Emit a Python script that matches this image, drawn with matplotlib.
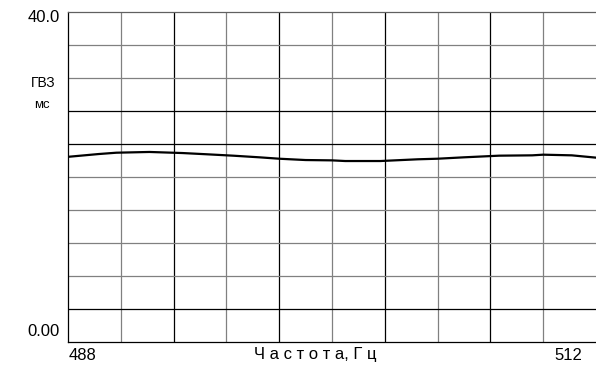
import numpy as np
import matplotlib

matplotlib.use("Agg")
import matplotlib.pyplot as plt  # noqa: E402

plt.rcParams["font.family"] = ["Liberation Sans", "DejaVu Sans"]

# group delay (ГВЗ), ms
freq_hz = [488.0, 489.4, 490.2, 491.7, 493.2, 494.3, 495.5, 496.7, 497.6,
           498.8, 500.0, 500.6, 502.2, 503.9, 504.8, 506.0, 507.6, 509.1,
           509.6, 510.9, 512.0]
gvz_ms = [22.45, 22.79, 22.95, 23.04, 22.91, 22.76, 22.59, 22.39, 22.22,
          22.06, 22.02, 21.94, 21.94, 22.15, 22.22, 22.39, 22.59, 22.63,
          22.71, 22.63, 22.35]

x_min, x_max = 488, 512
y_min, y_max = 0.0, 40.0
y_top_label = "40.0"
y_bottom_label = "0.00"
x_left_label = "488"
x_right_label = "512"
x_title = "Ч а с т о т а, Г ц"
y_title = "ГВЗ"
y_units = "мс"

fig = plt.figure(figsize=(5.96, 3.65), dpi=100)
ax = fig.add_axes([68 / 596, 23.3 / 365, 528 / 596, 329.4 / 365])
ax.set_xlim(x_min, x_max)
ax.set_ylim(y_min, y_max)
ax.set_xticks([])
ax.set_yticks([])

# grid: 10 x 10 cells, vertical lines alternate grey / black
for i, xv in enumerate(np.linspace(x_min, x_max, 11)[1:-1], start=1):
    ax.axvline(xv, color="#808080" if i % 2 else "#000000", lw=0.9, zorder=1)
dark_rows = {1, 6, 7}
for i, yv in enumerate(np.linspace(y_min, y_max, 11)[1:-1], start=1):
    ax.axhline(yv, color="#000000" if i in dark_rows else "#808080",
               lw=0.9, zorder=1)

ax.spines["right"].set_visible(False)
ax.spines["top"].set_color("#606060")
for s in ("left", "bottom"):
    ax.spines[s].set_color("#000000")
for s in ("left", "bottom", "top"):
    ax.spines[s].set_linewidth(0.9)

ax.plot(freq_hz, gvz_ms, color="#000000", lw=1.6, zorder=3)

# labels placed like the original instrument screen
fig.text(60 / 596, 1 - 18 / 365, y_top_label, ha="right", va="center",
         fontsize=12)
fig.text(60 / 596, 1 - 331 / 365, y_bottom_label, ha="right", va="center",
         fontsize=12)
fig.text(43 / 596, 1 - 83 / 365, y_title, ha="center", va="center",
         fontsize=10)
fig.text(42 / 596, 1 - 104.5 / 365, y_units, ha="center", va="center",
         fontsize=9.5)
fig.text(69 / 596, 1 - 355 / 365, x_left_label, ha="left", va="center",
         fontsize=12)
fig.text(582 / 596, 1 - 355 / 365, x_right_label, ha="right", va="center",
         fontsize=12)
fig.text(315 / 596, 1 - 355 / 365, x_title, ha="center", va="center",
         fontsize=12)

fig.savefig("out.png", dpi=100)
plt.close(fig)
